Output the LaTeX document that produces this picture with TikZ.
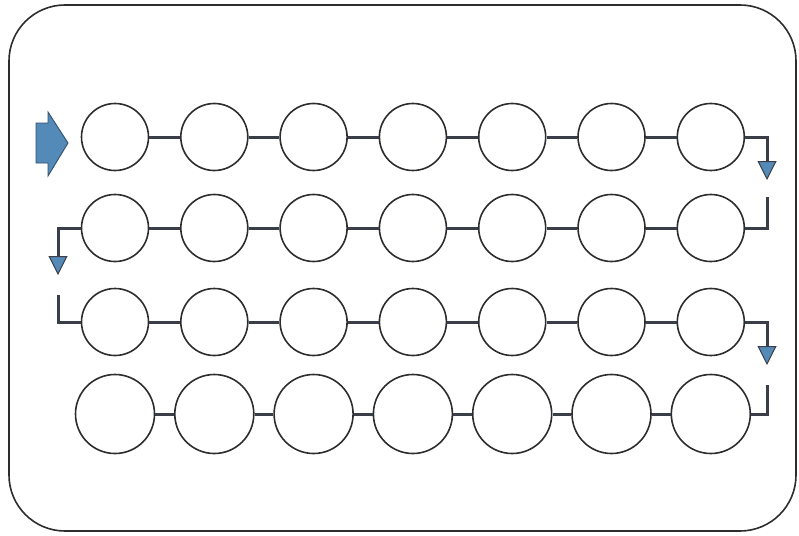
\documentclass[tikz,border=0pt]{standalone}
\usetikzlibrary{arrows.meta,positioning,calc}
\definecolor{beadedge}{RGB}{45,45,48}
\definecolor{linkgray}{RGB}{58,62,72}
\definecolor{flowblue}{RGB}{84,138,184}
\definecolor{flowedge}{RGB}{50,80,108}

\begin{document}
\begin{tikzpicture}[
  x=1pt,y=-1pt,
  bead/.style={circle,draw=beadedge,line width=1.6pt,minimum size=67pt,inner sep=0pt},
  bigbead/.style={bead,minimum size=79pt},
  link/.style={draw=linkgray,line width=3pt},
  turn/.style={link,-{Triangle[length=19pt,width=19pt,fill=flowblue,line width=1pt]}},
  frame/.style={rounded corners=56pt,draw=beadedge,line width=1.6pt}
]
\useasboundingbox (0,0) rectangle (799,535);
\draw[frame] (9,5) rectangle (796,531);

% -------------------------------------------------------------------------
% beads, four rows of seven
% -------------------------------------------------------------------------
\foreach \r/\y in {1/137,2/228,3/322}
  \foreach \i in {1,...,7}
    {\node[bead] (c\r\i) at ({115+99.3*(\i-1)},\y) {};}
\foreach \i in {1,...,7}
  {\node[bigbead] (c4\i) at ({115+99.3*(\i-1)},414) {};}

\foreach \r in {1,...,4}
  \foreach \i [count=\j from 2] in {1,...,6}
    {\draw[link] (c\r\i) -- (c\r\j);}

% start arrow
\filldraw[fill=flowblue,draw=flowedge,line width=0.9pt]
  (36,123) -- (48,123) -- (48,112) -- (68,143) -- (48,176) -- (48,163) -- (36,163) -- cycle;

% -------------------------------------------------------------------------
% turns between rows
% -------------------------------------------------------------------------
\coordinate (t1) at (767,180);
\coordinate (s2) at (767,197);
\coordinate (t2) at (58,275);
\coordinate (s3) at (58,295);
\coordinate (t3) at (767,365);
\coordinate (s4) at (767,385);

\draw[turn] (c17.east) -| (t1);
\draw[link] (s2) |- (c27.east);
\draw[turn] (c21.west) -| (t2);
\draw[link] (s3) |- (c31.west);
\draw[turn] (c37.east) -| (t3);
\draw[link] (s4) |- (c47.east);
\end{tikzpicture}
\end{document}
